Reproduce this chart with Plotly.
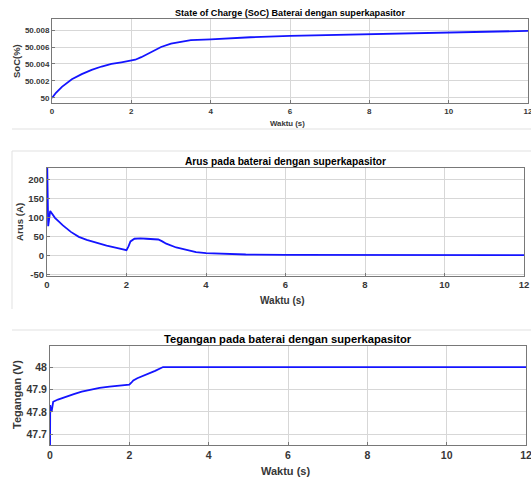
import plotly.graph_objects as go

W, H = 531, 477

# ---- data ----
t_soc = [0, 0.1, 0.25, 0.5, 0.75, 1.0, 1.25, 1.5, 1.75, 2.0, 2.1, 2.25, 2.5, 2.75, 3.0, 3.25, 3.5, 4.0, 5.0, 6.0, 8.0, 10.0, 12.0]
soc = [50.0, 50.0006, 50.0013, 50.0022, 50.0028, 50.0033, 50.0037, 50.0040, 50.0042, 50.0044, 50.0045, 50.0048, 50.0054,
       50.0060, 50.0064, 50.0066, 50.0068, 50.0069, 50.00715, 50.0073, 50.0075, 50.0077, 50.0079]

t_cur = [0, 0.005, 0.03, 0.08, 0.2, 0.4, 0.6, 0.8, 1.0, 1.25, 1.5, 1.75, 1.98, 2.0, 2.05, 2.1, 2.2, 2.35, 2.5, 2.65,
         2.8, 2.9, 3.0, 3.25, 3.5, 3.75, 4.0, 4.5, 5.0, 6.0, 8.0, 10.0, 12.0]
cur = [250, 240, 78, 118, 100, 80, 63, 50, 42, 34, 27, 21, 16, 15, 25, 38, 45, 46, 45, 44,
       43, 38, 32, 22, 15, 10, 7, 5, 3.5, 2.5, 2, 2, 2]

t_volt = [0, 0.005, 0.02, 0.04, 0.08, 0.2, 0.4, 0.6, 0.8, 1.0, 1.25, 1.5, 1.75, 2.0, 2.05, 2.1, 2.2, 2.35, 2.5, 2.65,
          2.85, 3.0, 4.0, 6.0, 8.0, 10.0, 12.0]
volt = [47.6, 47.83, 47.81, 47.80, 47.845, 47.855, 47.868, 47.879, 47.89, 47.899, 47.907, 47.913, 47.917, 47.921,
        47.93, 47.94, 47.95, 47.96, 47.97, 47.983, 48.0, 48.0, 48.0, 48.0, 48.0, 48.0, 48.0]

x_ticks = [0, 2, 4, 6, 8, 10, 12]
soc_ticks = [50, 50.002, 50.004, 50.006, 50.008]
soc_tick_labels = ["50", "50.002", "50.004", "50.006", "50.008"]
cur_ticks = [-50, 0, 50, 100, 150, 200]
volt_ticks = [47.7, 47.8, 47.9, 48]
volt_tick_labels = ["47.7", "47.8", "47.9", "48"]

titles = ["State of Charge (SoC) Baterai dengan superkapasitor",
          "Arus pada baterai dengan superkapasitor",
          "Tegangan pada baterai dengan superkapasitor"]
ylabels = ["SoC(%)", "Arus (A)", "Tegangan (V)"]
xlabel = "Waktu (s)"


def px(x):
    return x / W


def py(y):
    return 1 - y / H


# ---- layout geometry (page pixels) ----
panels = [
    dict(x0=52, x1=528, y0=19, y1=103, yr=[49.9994, 50.0093], tick=8, title=9.1, title_y=13,
         xl_y=124, xl=7.8, yl=(16, 61), yls=9.5),
    dict(x0=47, x1=524, y0=168, y1=276, yr=[-53, 231], tick=9.5, title=10.2, title_y=161,
         xl_y=300, xl=10, yl=(19, 222), yls=9.7),
    dict(x0=50, x1=526, y0=346, y1=445, yr=[47.652, 48.094], tick=10.5, title=11.2, title_y=339,
         xl_y=471, xl=11, yl=(17, 395), yls=11),
]

FONT = "Liberation Sans"
BLUE = "rgb(20,20,255)"
GRID = "rgb(215,215,215)"
TXT = "rgb(55,55,55)"

fig = go.Figure()
series = [(t_soc, soc), (t_cur, cur), (t_volt, volt)]
for i, (tx, ty) in enumerate(series):
    k = "" if i == 0 else str(i + 1)
    fig.add_trace(go.Scatter(x=tx, y=ty, mode="lines", line=dict(color=BLUE, width=1.8),
                             xaxis="x" + k, yaxis="y" + k, showlegend=False))

layout = dict(template="none", width=W, height=H, autosize=False,
              margin=dict(l=0, r=0, t=0, b=0, pad=0, autoexpand=False),
              paper_bgcolor="white", plot_bgcolor="white",
              font=dict(family=FONT, color=TXT))

yticks = [(soc_ticks, soc_tick_labels), (cur_ticks, [str(v) for v in cur_ticks]), (volt_ticks, volt_tick_labels)]
ann = []
shapes = []
for i, p in enumerate(panels):
    k = "" if i == 0 else str(i + 1)
    common = dict(showline=True, linecolor="rgb(120,120,120)", linewidth=1, mirror=True,
                  showgrid=True, gridcolor=GRID, gridwidth=1, zeroline=False, automargin=False,
                  ticks="inside", ticklen=3, tickcolor="rgb(120,120,120)",
                  ticklabeloverflow="allow",
                  tickfont=dict(family=FONT, size=p["tick"], color=TXT, weight="bold"))
    layout["xaxis" + k] = dict(domain=[px(p["x0"]), px(p["x1"])], range=[0, 12], tickvals=x_ticks,
                               anchor="y" + k, **common)
    tv, tt = yticks[i]
    layout["yaxis" + k] = dict(domain=[py(p["y1"]), py(p["y0"])], range=p["yr"], tickvals=tv, ticktext=tt,
                               anchor="x" + k, **common)
    cx = (p["x0"] + p["x1"]) / 2
    ann.append(dict(text="<b>%s</b>" % titles[i], x=px(cx), y=py(p["title_y"]), xref="paper", yref="paper",
                    xanchor="center", yanchor="middle", showarrow=False,
                    font=dict(family=FONT, size=p["title"], color="black")))
    ann.append(dict(text="<b>%s</b>" % xlabel, x=px(cx - 3), y=py(p["xl_y"]),
                    xref="paper", yref="paper", xanchor="center", yanchor="middle", showarrow=False,
                    font=dict(family=FONT, size=p["xl"], color=TXT)))
    lx, ly = p["yl"]
    ann.append(dict(text="<b>%s</b>" % ylabels[i], x=px(lx), y=py(ly), xref="paper", yref="paper",
                    xanchor="center", yanchor="middle", showarrow=False, textangle=-90,
                    font=dict(family=FONT, size=p["yls"], color=TXT)))

# separator lines of the composed figure
for (xa, ya, xb, yb) in [(12, 129, 531, 129), (12, 151, 531, 151), (12, 151, 12, 309), (12, 330, 531, 330)]:
    shapes.append(dict(type="line", xref="paper", yref="paper", x0=px(xa), x1=px(xb),
                       y0=py(ya), y1=py(yb), line=dict(color="rgb(225,225,225)", width=1)))

layout["annotations"] = ann
layout["shapes"] = shapes
fig.update_layout(**layout)
fig.write_html("out.html", config={"displayModeBar": False},
               post_script="document.body.style.margin='0px';document.body.style.overflow='hidden';")
